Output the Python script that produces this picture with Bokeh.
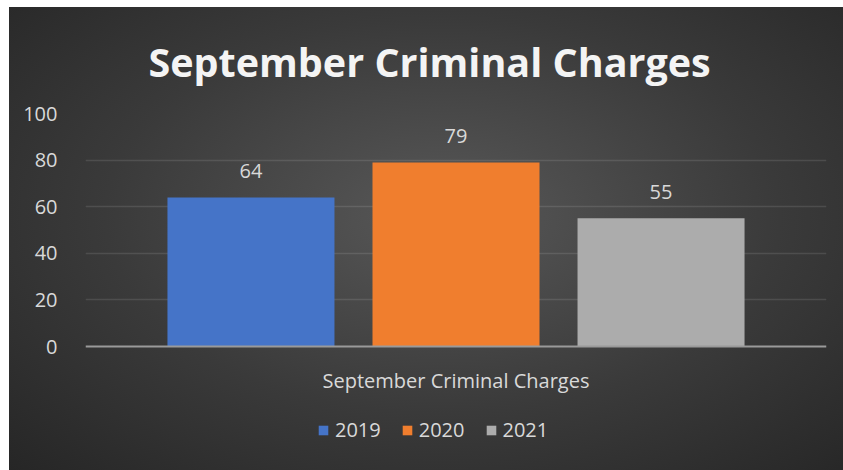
from bokeh.plotting import figure
from bokeh.models import (FactorRange, Range1d, Legend, LegendItem, ColumnDataSource,
                          FixedTicker)
from bokeh.transform import dodge
from bokeh.core.properties import value
from bokeh.embed import file_html
from bokeh.resources import INLINE

# ---- data ----
category = "September Criminal Charges"
years = ["2019", "2020", "2021"]
counts = [64, 79, 55]
y_ticks = [0, 20, 40, 60, 80, 100]
title_text = "September Criminal Charges"

# ---- style ----
bar_colors = ["#4574c8", "#f07e2e", "#acacac"]
offsets = [-0.2767, 0.0, 0.2767]
bar_width = 0.2254
text_col = "#d9d9d9"
font = "Open Sans"
px_per_unit = 2.33          # 100 units span 233 px
frame_h = 357               # frame extends down to the legend area
y_bottom = -(frame_h - 100 * px_per_unit) / px_per_unit

p = figure(frame_width=741, frame_height=frame_h, output_backend="svg", toolbar_location=None,
           x_range=FactorRange(factors=[category], range_padding=0),
           y_range=Range1d(y_bottom, 100),
           min_border_left=76, min_border_right=17, min_border_top=106, min_border_bottom=0)
p.margin = (7, 0, 0, 9)

p.styles = {"background-image":
            "radial-gradient(ellipse farthest-corner at 52% 45%, #585858 0%, #3a3a3a 55%, #262626 100%)"}
p.border_fill_color = None
p.background_fill_color = None
p.outline_line_color = None

p.title.text = title_text
p.title.align = "left"
p.title.offset = 63
p.title.text_font = font
p.title.text_font_style = "bold"
p.title.text_font_size = "39.5px"
p.title.text_color = "#f4f4f4"
p.title.standoff = 50

items = []
for yr, val, col, off in zip(years, counts, bar_colors, offsets):
    src = ColumnDataSource(dict(cat=[category], v=[val], lab=[str(val)]))
    r = p.vbar(x=dodge("cat", off, range=p.x_range), top="v", bottom=0, width=bar_width,
               source=src, fill_color=col, line_color=None)
    p.text(x=dodge("cat", off, range=p.x_range), y="v", text="lab", source=src,
           text_align="center", text_baseline="alphabetic", y_offset=-26,
           text_font=value(font), text_font_size="20px", text_color=text_col)
    items.append(LegendItem(label=yr, renderers=[r]))

legend = Legend(items=items, orientation="horizontal", location=(232, 27),
                padding=0, margin=0, spacing=20, label_standoff=6,
                glyph_width=12, glyph_height=12,
                label_text_font=font, label_text_font_size="20px", label_text_color=text_col,
                background_fill_alpha=0, border_line_color=None)
p.add_layout(legend)

p.xgrid.grid_line_color = None
p.ygrid.grid_line_color = "white"
p.ygrid.grid_line_alpha = 0.11
p.ygrid.grid_line_width = 1.5
p.ygrid.ticker = FixedTicker(ticks=y_ticks[1:])

p.yaxis.ticker = FixedTicker(ticks=y_ticks)
p.yaxis.axis_line_color = None
p.yaxis.major_tick_line_color = None
p.yaxis.minor_tick_line_color = None
p.yaxis.major_label_standoff = 22
p.yaxis.major_label_text_font = font
p.yaxis.major_label_text_font_size = "20px"
p.yaxis.major_label_text_color = text_col

p.xaxis.fixed_location = 0
p.xaxis.axis_line_color = "#9a9a9a"
p.xaxis.axis_line_width = 2
p.xaxis.major_tick_line_color = None
p.xaxis.major_tick_out = 0
p.xaxis.major_label_standoff = 20
p.xaxis.major_label_text_font = font
p.xaxis.major_label_text_font_size = "20px"
p.xaxis.major_label_text_color = text_col

open("out.html", "w").write(file_html(p, INLINE))
